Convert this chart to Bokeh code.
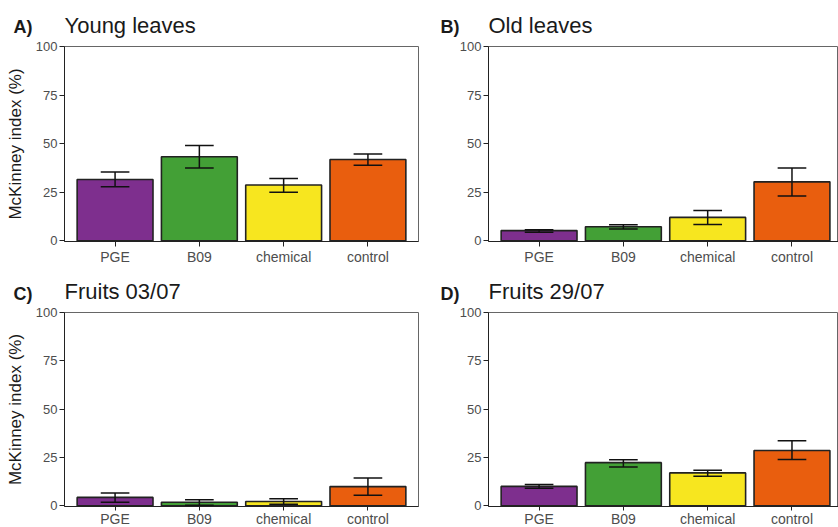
from bokeh.plotting import figure
from bokeh.layouts import gridplot
from bokeh.models import Range1d, FixedTicker, Label
from bokeh.embed import file_html
from bokeh.resources import INLINE

categories = ["PGE", "B09", "chemical", "control"]
colors = ["#7E2F8E", "#43A036", "#F7E61F", "#E95E0E"]
y_ticks = [0, 25, 50, 75, 100]

panel_letters = ["A)", "B)", "C)", "D)"]
panel_titles = ["Young leaves", "Old leaves", "Fruits 03/07", "Fruits 29/07"]

young_mean = [31.5, 43.2, 28.7, 41.8]
young_low = [27.8, 37.5, 24.9, 38.8]
young_high = [35.4, 49.0, 32.1, 44.7]

old_mean = [5.2, 7.2, 12.0, 30.3]
old_low = [4.4, 6.0, 8.3, 23.0]
old_high = [5.7, 8.2, 15.6, 37.5]

f0307_mean = [4.3, 1.8, 2.2, 9.9]
f0307_low = [1.8, 0.3, 0.7, 5.4]
f0307_high = [6.6, 3.1, 3.6, 14.3]

f2907_mean = [10.0, 22.3, 17.0, 28.6]
f2907_low = [9.0, 20.0, 15.2, 23.9]
f2907_high = [11.0, 23.8, 18.3, 33.6]

panels = [
    (young_mean, young_low, young_high),
    (old_mean, old_low, old_high),
    (f0307_mean, f0307_low, f0307_high),
    (f2907_mean, f2907_low, f2907_high),
]

FONT = "Liberation Sans"
xs = list(range(1, len(categories) + 1))
LETTER_PANEL_H = 18  # estimated layout height of the letter label panel


def make_panel(i):
    mean, low, high = panels[i]
    left = (i % 2 == 0)
    top_row = i < 2
    fw = 354 if left else 350
    fh = 195 if top_row else 194
    x_end = 4.6 if left else 0.4 + 350 / 84.3
    p = figure(
        frame_width=fw, frame_height=fh,
        x_range=Range1d(0.4, x_end), y_range=Range1d(-0.4, 100),
        output_backend="svg", toolbar_location=None, title_location=None,
        min_border_left=64 if left else 69,
        min_border_right=1 if left else 0,
        min_border_top=46 if top_row else 45,
        min_border_bottom=10,
    )
    p.grid.visible = False
    p.background_fill_color = "white"
    p.border_fill_color = "white"
    p.outline_line_color = "#666666"
    p.outline_line_width = 1

    p.vbar(x=xs, top=mean, bottom=0, width=0.9, fill_color=colors,
           line_color="#222222", line_width=1.6)
    p.segment(x0=xs, y0=low, x1=xs, y1=high, line_color="#111111", line_width=1.5)
    cap = 0.17
    p.segment(x0=[x - cap for x in xs], y0=low, x1=[x + cap for x in xs], y1=low,
              line_color="#111111", line_width=1.5)
    p.segment(x0=[x - cap for x in xs], y0=high, x1=[x + cap for x in xs], y1=high,
              line_color="#111111", line_width=1.5)

    for ax in (p.xaxis[0], p.yaxis[0]):
        ax.axis_line_color = "#222222"
        ax.axis_line_width = 1
        ax.major_tick_line_color = "#222222"
        ax.major_tick_in = 0
        ax.minor_tick_line_color = None
        ax.major_label_text_font = FONT
        ax.major_label_text_color = "#4D4D4D"
    p.yaxis.major_tick_out = 5
    p.xaxis.major_tick_out = 5 if top_row else 4
    p.xaxis.major_label_text_font_size = "14px"
    p.xaxis.major_label_standoff = 2 if top_row else 0
    p.yaxis.major_label_text_font_size = "13px"
    p.yaxis.major_label_standoff = 2

    p.xaxis.ticker = FixedTicker(ticks=xs)
    p.xaxis.major_label_overrides = {x: c for x, c in zip(xs, categories)}
    p.yaxis.ticker = FixedTicker(ticks=y_ticks)
    if left:
        p.yaxis.axis_label = "McKinney index (%)"
        p.yaxis.axis_label_text_font = FONT
        p.yaxis.axis_label_text_font_size = "17px"
        p.yaxis.axis_label_text_font_style = "normal"
        p.yaxis.axis_label_text_color = "#1A1A1A"
        p.yaxis.axis_label_standoff = 8

    base = 19.3 if top_row else 19.0
    p.add_layout(Label(x=-51 if left else -48, y=base, x_units="screen", y_units="screen",
                       text=panel_letters[i], text_font=FONT, text_font_size="18px",
                       text_font_style="bold", text_color="#1A1A1A",
                       text_baseline="alphabetic"), "above")
    p.add_layout(Label(x=0, y=base - LETTER_PANEL_H, x_units="screen", y_units="screen",
                       text=panel_titles[i], text_font=FONT, text_font_size="22px",
                       text_color="#1A1A1A", text_baseline="alphabetic"), "above")
    return p


figs = [make_panel(i) for i in range(4)]
grid = gridplot([[figs[0], figs[1]], [figs[2], figs[3]]], toolbar_location=None)

open("out.html", "w").write(file_html(grid, INLINE))
